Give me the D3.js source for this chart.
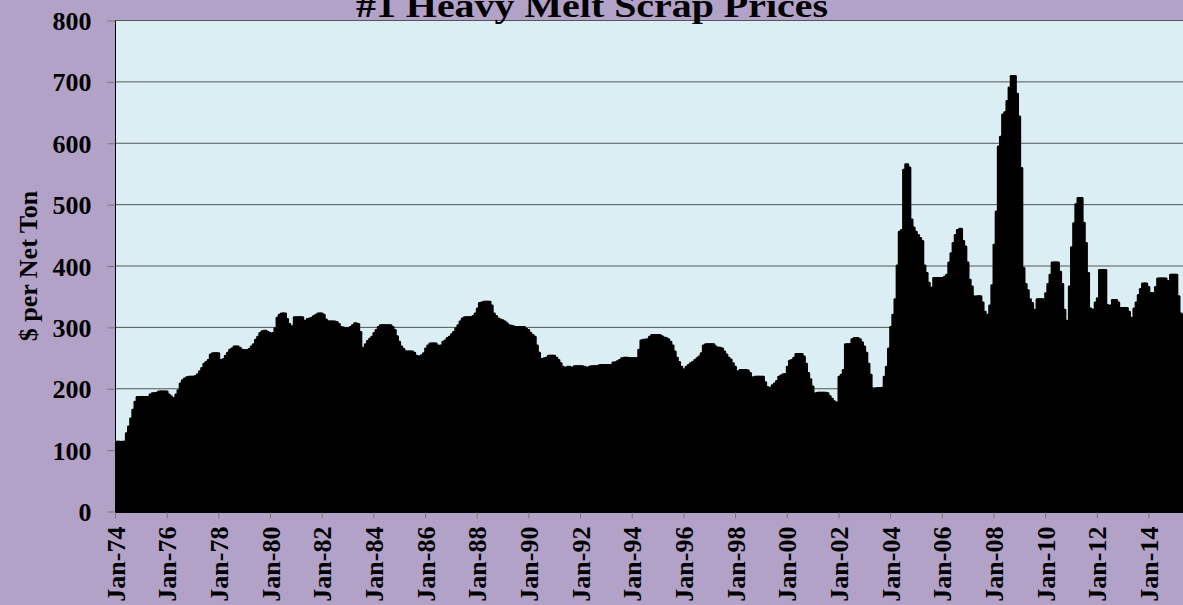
<!DOCTYPE html>
<head>
<meta charset="utf-8">
<style>

body {
  margin: 0;
  background: #b3a2c7;
}

svg {
  display: block;
}

text {
  font-family: "Palatino Linotype", "Book Antiqua", Palatino, "Liberation Serif", serif;
  font-weight: bold;
  fill: #000;
}

.grid {
  stroke: #555;
  stroke-width: 1px;
}

.domain {
  display: none;
}

.tick line {
  stroke: #777;
}

</style>
</head>

<body>
<script src="https://cdn.jsdelivr.net/npm/d3@7"></script>

<script>
  // monthly #1 HMS price, $ per net ton, Jan-74 .. May-15
  var prices1970s = [
    113, 113,  93, 113, 113, 127, 138, 151, 165, 178, 186, 186,   // 1974
    186, 186, 186, 184, 190, 192, 192, 193, 195, 195, 195, 195,   // 1975
    190, 187, 184, 184, 190, 197, 208, 213, 216, 218, 219, 219,   // 1976
    219, 220, 223, 228, 233, 240, 243, 246, 255, 257, 257, 257,   // 1977
    246, 238, 248, 253, 258, 263, 265, 268, 268, 266, 263, 262,   // 1978
    262, 262, 264, 268, 272, 279, 284, 290, 293, 294, 292, 290    // 1979
  ];
  var prices1980s = [
    286, 290, 298, 315, 320, 322, 322, 313, 305, 300, 301, 316,
    316, 316, 316, 297, 310, 313, 314, 315, 318, 320, 322, 322,
    320, 312, 309, 309, 309, 309, 308, 305, 300, 299, 298, 298,
    298, 300, 303, 306, 305, 292, 266, 265, 272, 277, 281, 284,
    290, 295, 300, 303, 303, 303, 303, 303, 300, 295, 285, 276,
    268, 264, 260, 260, 260, 260, 258, 253, 252, 252, 254, 257,
    265, 270, 273, 273, 273, 270, 265, 270, 276, 278, 282, 284,
    288, 292, 298, 303, 309, 314, 316, 316, 316, 316, 318, 322,
    330, 339, 340, 341, 341, 341, 335, 322, 318, 314, 312, 311,
    309, 306, 303, 302, 301, 300, 300, 300, 299, 300, 297, 295
  ];
  var prices1990s = [
    290, 287, 284, 270, 258, 246, 248, 249, 250, 253, 253, 253,
    250, 246, 241, 235, 233, 234, 235, 234, 233, 236, 236, 236,
    236, 235, 234, 233, 235, 236, 236, 236, 237, 238, 238, 238,
    238, 238, 230, 242, 242, 244, 246, 249, 250, 250, 249, 249,
    249, 249, 249, 263, 278, 279, 279, 280, 284, 287, 287, 287,
    287, 285, 283, 282, 280, 276, 270, 260, 250, 243, 235, 231,
    229, 235, 238, 241, 243, 246, 249, 252, 257, 270, 272, 272,
    272, 272, 268, 266, 266, 265, 260, 255, 250, 247, 241, 235,
    225, 228, 230, 230, 230, 229, 225, 217, 218, 219, 219, 219,
    219, 210, 202, 200, 201, 205, 208, 212, 219, 221, 223, 223
  ];
  var prices2000s = [
    235, 245, 246, 250, 256, 256, 256, 252, 240, 225, 215, 203,
    190, 192, 193, 193, 193, 193, 192, 187, 183, 179, 177, 176,
    219, 222, 230, 272, 272, 272, 280, 282, 282, 280, 275, 268,
    258, 240, 222, 200, 186, 200, 200, 200, 201, 219, 235, 265,
    300, 320, 345, 400, 455, 458, 556, 565, 560, 475, 462, 455,
    450, 445, 440, 400, 388, 372, 364, 364, 380, 380, 380, 380,
    380, 382, 385, 405, 420, 437, 450, 458, 460, 440, 431, 405,
    377, 366, 350, 345, 350, 350, 340, 325, 306, 320, 335, 368,
    434, 488, 594, 610, 646, 650, 668, 690, 709, 709, 680, 643,
    559, 396, 370, 360, 345, 339, 295, 328, 345, 345, 345, 339
  ];
  var prices2010s = [
    355, 370, 385, 405, 405, 405, 390, 370, 328, 310, 301, 366,
    430, 469, 500, 510, 510, 470, 437, 388, 330, 328, 328, 340,
    347, 393, 393, 393, 336, 333, 335, 344, 344, 340, 331, 331,
    331, 331, 325, 315, 301, 330, 340, 352, 362, 371, 371, 365,
    355, 355, 355, 365, 379, 379, 379, 379, 375, 371, 385, 385,
    385, 350, 322, 320, 273
  ];

  var yTicks = [0, 100, 200, 300, 400, 500, 600, 700, 800];
  var xTickLabels = ["Jan-74", "Jan-76", "Jan-78", "Jan-80", "Jan-82", "Jan-84",
    "Jan-86", "Jan-88", "Jan-90", "Jan-92", "Jan-94", "Jan-96", "Jan-98",
    "Jan-00", "Jan-02", "Jan-04", "Jan-06", "Jan-08", "Jan-10", "Jan-12", "Jan-14"];

  var prices = prices1970s.concat(prices1980s, prices1990s, prices2000s, prices2010s);

  var fmt = d3.timeFormat("%b-%y");
  var months = d3.timeMonth.range(new Date(1974, 0, 1), new Date(1974, prices.length, 1)).map(fmt);

  var data = months.map(function (m, i) { return { month: m, value: prices[i] }; });

  var width = 1183,
      height = 605,
      plotLeft = 115.5,   // plot left edge
      plotTop = 20.5,     // 800 line
      plotBase = 511.5,   // 0 line
      monthW = 2.153;     // px per month

  var svg = d3.select("body")
    .append("svg")
      .attr("width", width)
      .attr("height", height);

  var x = d3.scaleBand()
      .domain(months)
      .range([plotLeft, plotLeft + monthW * months.length])
      .padding(0);

  var y = d3.scaleLinear().domain([0, 800]).range([plotBase, plotTop]);

  // plot area
  svg.append("rect")
      .attr("x", plotLeft)
      .attr("y", plotTop)
      .attr("width", width - plotLeft)
      .attr("height", plotBase - plotTop)
      .attr("fill", "#dbeef4");

  // horizontal grid lines
  svg.append("g")
    .selectAll("line")
    .data(yTicks)
    .enter().append("line")
      .classed("grid", true)
      .attr("x1", plotLeft)
      .attr("x2", width)
      .attr("y1", function (d) { return y(d); })
      .attr("y2", function (d) { return y(d); });

  svg.append("clipPath")
      .attr("id", "plotclip")
    .append("rect")
      .attr("x", plotLeft)
      .attr("y", 0)
      .attr("width", width - plotLeft)
      .attr("height", plotBase + 2);

  // bars, thick black outline makes them read as one filled area
  svg.append("g")
      .attr("clip-path", "url(#plotclip)")
    .selectAll("rect")
    .data(data)
    .enter().append("rect")
      .attr("x", function (d) { return x(d.month); })
      .attr("width", x.bandwidth())
      .attr("y", function (d) { return y(d.value); })
      .attr("height", function (d) { return plotBase - y(d.value); })
      .attr("fill", "#000")
      .attr("stroke", "#000")
      .attr("stroke-width", 2.8)
      .attr("stroke-linejoin", "round");

  // y axis
  var yAxis = d3.axisLeft(y)
      .tickValues(yTicks)
      .tickSize(8)
      .tickPadding(16);

  svg.append("g")
      .attr("transform", "translate(" + plotLeft + ",0)")
      .call(yAxis)
      .attr("font-family", null)
      .attr("font-size", null)
    .selectAll("text")
      .style("font-size", "26px")
      .attr("dy", "0.35em");

  svg.append("line")
      .attr("x1", plotLeft).attr("x2", plotLeft)
      .attr("y1", plotTop).attr("y2", plotBase + 1)
      .attr("stroke", "#000")
      .attr("stroke-width", 1);

  // x axis, ticks at the start of each January
  var xAxis = d3.axisBottom(x)
      .tickValues(xTickLabels)
      .tickSize(6);

  var xg = svg.append("g")
      .attr("transform", "translate(" + (-x.bandwidth() / 2) + "," + (plotBase + 1) + ")")
      .call(xAxis)
      .attr("font-family", null)
      .attr("font-size", null);

  xg.selectAll(".tick text")
      .style("font-size", "26px")
      .style("text-anchor", "end")
      .attr("transform", "rotate(-90)")
      .attr("x", -14)
      .attr("y", 0)
      .attr("dy", "0.35em");

  // axis title
  svg.append("text")
      .attr("transform", "translate(28,266) rotate(-90)")
      .attr("dy", "0.35em")
      .style("text-anchor", "middle")
      .style("font-size", "26px")
      .text("$ per Net Ton");

  // chart title, clipped by the top of the page
  svg.append("text")
      .attr("x", 592)
      .attr("y", 17)
      .attr("textLength", 472)
      .attr("lengthAdjust", "spacingAndGlyphs")
      .style("text-anchor", "middle")
      .style("font-size", "34px")
      .text("#1 Heavy Melt Scrap Prices");
</script>
